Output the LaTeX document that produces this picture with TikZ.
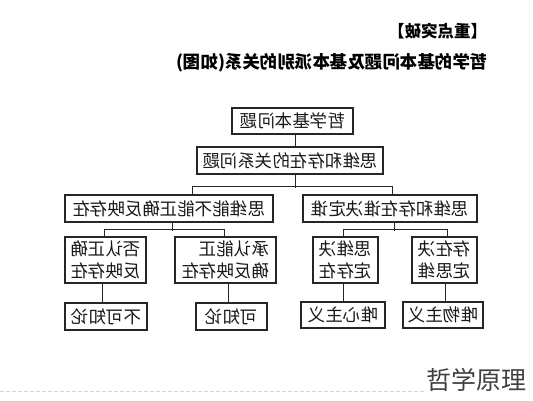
\documentclass[tikz,border=0pt]{standalone}
\usepackage{fontspec}
\setmainfont{Noto Sans CJK SC}
\usetikzlibrary{calc}
\begin{document}
\begin{tikzpicture}[x=1pt,y=-1pt,
  box/.style={draw=black!85, line width=1.1pt, inner sep=0pt, xscale=-1,
    font=\fontsize{17.5}{22}\selectfont, text=black!90},
  link/.style={draw=black!85, line width=0.9pt},
  ttl/.style={xscale=-1, inner sep=0pt, text=black}]
\useasboundingbox (0,0) rectangle (533,400);
% titles
\node[ttl, font=\bfseries\fontsize{16.5}{18}\selectfont] (t1) at (437.5,31) {【重点突破】};
\node[ttl, font=\bfseries\fontsize{17.5}{20}\selectfont] (t2) at (332,63) {哲学的基本问题及基本派别的关系(如图)};
% level 0,1
\node[box, minimum width=121pt, minimum height=26pt] (b1) at (292.5,121) {哲学基本问题};
\node[box, minimum width=186pt, minimum height=27pt] (b2) at (290,160.5) {思维和存在的关系问题};
% level 2
\node[box, minimum width=208pt, minimum height=27pt] (L2a) at (169,208.5) {思维能不能正确反映存在};
\node[box, minimum width=174pt, minimum height=27pt] (L2b) at (390,208.5) {思维和存在谁决定谁};
% level 3
\node[box, align=left, minimum width=81pt, minimum height=46pt] (L3A) at (105.5,260) {否认正确\\反映存在};
\node[box, align=left, minimum width=101pt, minimum height=46pt] (L3B) at (225.5,260) {承认能正\\确反映存在};
\node[box, align=left, minimum width=65pt, minimum height=46pt] (L3C) at (345.5,260) {思维决\\定存在};
\node[box, align=left, minimum width=65pt, minimum height=46pt] (L3D) at (444.5,260) {存在决\\定思维};
% level 4
\node[box, minimum width=82pt, minimum height=27pt] (L4A) at (106,316.5) {不可知论};
\node[box, minimum width=71pt, minimum height=27pt] (L4B) at (231.5,316.5) {可知论};
\node[box, minimum width=84pt, minimum height=26pt] (L4C) at (343,315) {唯心主义};
\node[box, minimum width=80pt, minimum height=26pt] (L4D) at (443,315) {唯物主义};
% connectors
\draw[link] ($(b1.south)+(2.5,0)$) -- ($(b2.north)+(5,0)$);
\draw[link] ($(b2.south)+(5,0)$) -- ++(0,13);
\draw[link] ($(L2a.north)+(23,0)$) -- ++(0,-8) -| ($(L2b.north)+(2,0)$);
\draw[link] ($(L2a.south)+(3,0)$) -- ++(0,8);
\draw[link] ($(L3A.north)+(-1.5,0)$) -- ++(0,-7) -| ($(L3B.north)+(-1.5,0)$);
\draw[link] ($(L2b.south)+(4,0)$) -- ++(0,8);
\draw[link] ($(L3C.north)+(-2.5,0)$) -- ++(0,-7) -| ($(L3D.north)+(2.5,0)$);
\draw[link] ($(L3A.south)+(-3.5,0)$) -- ++(0,20);
\draw[link] ($(L3B.south)+(2.5,0)$) -- ++(0,20);
\draw[link] ($(L3C.south)+(-2.5,0)$) -- ++(0,19);
\draw[link] ($(L3D.south)+(0.5,0)$) -- ++(0,19);
% watermark
\coordinate (d0) at (0,391);
\coordinate (d1) at (425,391);
\draw[black!15, line width=0.6pt, dash pattern=on 4pt off 2pt] (d0) -- (d1);
\node[inner sep=0pt, text=black!75, font=\fontsize{25}{25}\selectfont] (wm) at (476,380) {哲学原理};
\end{tikzpicture}
\end{document}
